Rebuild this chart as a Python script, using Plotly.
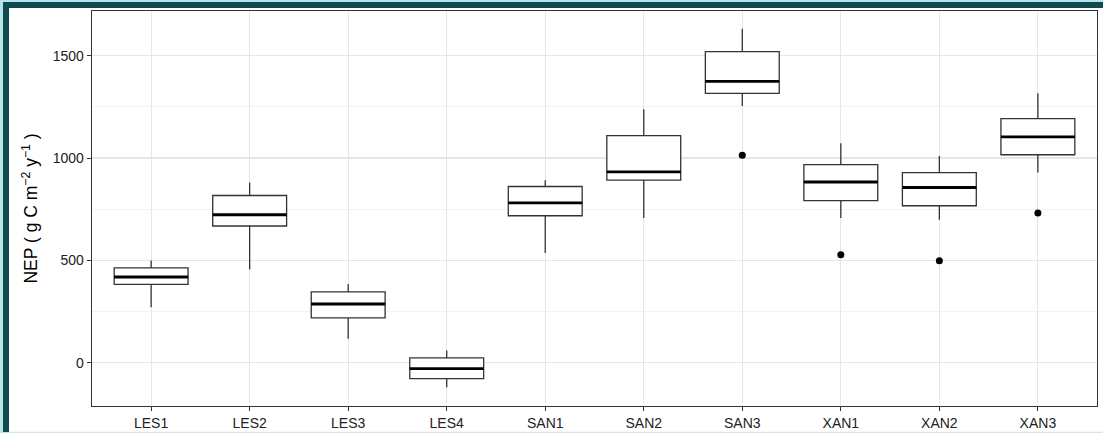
import plotly.graph_objects as go

categories = ["LES1", "LES2", "LES3", "LES4", "SAN1", "SAN2", "SAN3", "XAN1", "XAN2", "XAN3"]
lower_whisker = [271, 455, 117, -119, 536, 707, 1254, 707, 698, 929]
q1_values = [383, 668, 219, -77, 718, 892, 1316, 792, 767, 1016]
median_values = [419, 723, 287, -28, 781, 932, 1374, 883, 856, 1103]
q3_values = [464, 817, 346, 24, 861, 1109, 1520, 968, 929, 1192]
upper_whisker = [500, 880, 385, 60, 892, 1238, 1631, 1072, 1010, 1316]
outlier_sites = ["SAN3", "XAN1", "XAN2", "XAN3"]
outlier_values = [1014, 528, 498, 731]

W, H = 1103, 433
ML, MR, MT, MB = 92, 6, 11, 27
BOX_W = 0.75

pos = list(range(len(categories)))
fig = go.Figure()

fig.add_trace(go.Box(
    x=pos, q1=q1_values, median=median_values, q3=q3_values,
    lowerfence=lower_whisker, upperfence=upper_whisker,
    width=BOX_W, whiskerwidth=0, boxpoints=False,
    fillcolor="white", line=dict(color="#333333", width=1.3),
    hoverinfo="skip", showlegend=False,
))

mx, my = [], []
for i, m in zip(pos, median_values):
    mx += [i - BOX_W / 2, i + BOX_W / 2, None]
    my += [m, m, None]
fig.add_trace(go.Scatter(x=mx, y=my, mode="lines",
                         line=dict(color="black", width=2.8),
                         showlegend=False, hoverinfo="skip"))

fig.add_trace(go.Scatter(x=[categories.index(c) for c in outlier_sites], y=outlier_values,
                         mode="markers", marker=dict(color="black", size=7),
                         showlegend=False, hoverinfo="skip"))

pw = W - ML - MR
ph = H - MT - MB
def px_x(p):
    return (p - ML) / pw
def px_y(p):
    return (H - MB - p) / ph

shapes = [
    dict(type="rect", xref="paper", yref="paper", layer="below",
         x0=px_x(0), x1=px_x(W), y0=px_y(H), y1=px_y(0),
         fillcolor="#b7e3e8", line=dict(width=0)),
    dict(type="rect", xref="paper", yref="paper", layer="below",
         x0=px_x(3), x1=px_x(W + 5), y0=px_y(432), y1=px_y(2),
         fillcolor="#0e4a50", line=dict(width=0)),
    dict(type="rect", xref="paper", yref="paper", layer="below",
         x0=px_x(9), x1=px_x(W + 5), y0=px_y(432), y1=px_y(8),
         fillcolor="white", line=dict(width=0)),
    dict(type="line", xref="paper", yref="paper", layer="below",
         x0=px_x(9), x1=px_x(W + 5), y0=px_y(432.5), y1=px_y(432.5),
         line=dict(color="#d6e6e8", width=1.5)),
]

fig.update_layout(
    width=W, height=H,
    margin=dict(l=ML, r=MR, t=MT, b=MB, pad=0, autoexpand=False),
    paper_bgcolor="white", plot_bgcolor="rgba(0,0,0,0)",
    font=dict(family="Liberation Sans, Arial, sans-serif", color="#222222"),
    shapes=shapes,
    xaxis=dict(
        range=[-0.6, len(categories) - 0.4], automargin=False,
        tickmode="array", tickvals=pos, ticktext=categories,
        showgrid=True, gridcolor="#e6e6e6", gridwidth=1.1,
        zeroline=False, showline=True, linecolor="#333333", linewidth=1.3, mirror=True,
        ticks="outside", ticklen=4, tickcolor="#333333", tickwidth=1,
        tickfont=dict(size=14, color="#222222"),
    ),
    yaxis=dict(
        range=[-211, 1718], automargin=False,
        tickmode="linear", tick0=0, dtick=500,
        showgrid=True, gridcolor="#e6e6e6", gridwidth=1.1,
        minor=dict(tick0=250, dtick=500, showgrid=True, gridcolor="#f0f0f0", gridwidth=0.8),
        zeroline=False, showline=True, linecolor="#333333", linewidth=1.3, mirror=True,
        ticks="outside", ticklen=4, tickcolor="#333333", tickwidth=1,
        tickfont=dict(size=14, color="#222222"),
        title=dict(text="NEP ( g C m<sup>−2</sup> y<sup>−1</sup> )",
                   font=dict(size=17.5, color="black"), standoff=10),
    ),
)

fig.write_html("out.html", config={"displayModeBar": False, "staticPlot": True},
               post_script="document.body.style.margin='0px';document.body.style.overflow='hidden';")
